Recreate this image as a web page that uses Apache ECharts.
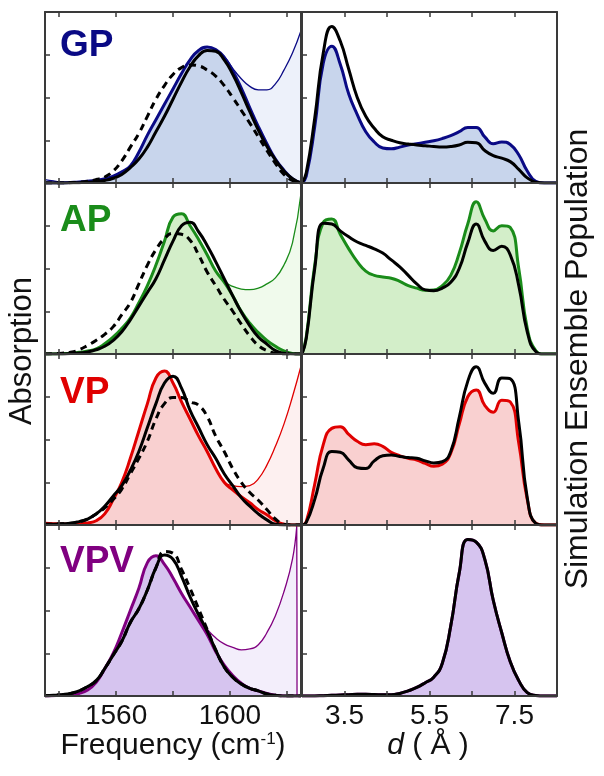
<!DOCTYPE html>
<html><head><meta charset="utf-8">
<script src="https://cdn.jsdelivr.net/npm/echarts@6/dist/echarts.min.js"></script>
<style>html,body{margin:0;padding:0;background:#fff;} #c{width:604px;height:776px;}</style>
</head><body><div id="c"></div>
<script>
// ---------- data ----------
const freq = [1535,1538,1541,1544,1547,1550,1553,1556,1559,1562,1565,1568,1571,1574,1577,1580,1583,1586,1589,1592,1595,1598,1601,1604,1607,1610,1613,1616,1619,1622,1625];
const freqTicks = [1540,1560,1580,1600,1620];
const freqLabels = [1560,1600];

const gpThick = [0,0,0,0.003,0.006,0.01,0.016,0.025,0.04,0.065,0.10,0.18,0.28,0.37,0.46,0.55,0.64,0.72,0.775,0.795,0.78,0.735,0.655,0.555,0.44,0.33,0.23,0.14,0.075,0.025,0];
const gpThin  = [0.02,0.012,0.006,0.004,0.006,0.01,0.016,0.025,0.04,0.065,0.10,0.18,0.28,0.37,0.46,0.55,0.64,0.72,0.775,0.795,0.78,0.74,0.67,0.61,0.565,0.545,0.545,0.58,0.66,0.76,0.89];
const gpBlack = [0,0,0,0.001,0.002,0.004,0.008,0.015,0.028,0.05,0.09,0.14,0.21,0.30,0.39,0.49,0.59,0.68,0.745,0.775,0.77,0.72,0.635,0.53,0.417,0.31,0.215,0.135,0.07,0.025,0];
const gpDash  = [0,0,0,0.002,0.005,0.01,0.02,0.035,0.07,0.13,0.21,0.29,0.39,0.49,0.57,0.635,0.675,0.69,0.685,0.66,0.625,0.57,0.5,0.425,0.35,0.27,0.19,0.115,0.05,0.015,0];

const apThick = [0,0,0.002,0.005,0.01,0.018,0.03,0.06,0.10,0.15,0.21,0.30,0.40,0.52,0.66,0.80,0.82,0.75,0.67,0.58,0.485,0.42,0.34,0.25,0.18,0.125,0.08,0.045,0.018,0.003,0];
const apThin  = [0,0,0.002,0.005,0.01,0.018,0.03,0.06,0.10,0.15,0.21,0.30,0.40,0.52,0.66,0.80,0.82,0.75,0.67,0.58,0.485,0.425,0.395,0.38,0.376,0.385,0.41,0.445,0.52,0.65,0.94];
const apBlack = [0,0,0,0.003,0.006,0.012,0.025,0.045,0.08,0.13,0.20,0.28,0.36,0.44,0.55,0.66,0.75,0.77,0.715,0.635,0.54,0.44,0.34,0.245,0.165,0.10,0.058,0.02,0.004,0,0];
const apDash  = [0,0.002,0.005,0.01,0.025,0.05,0.08,0.115,0.16,0.23,0.30,0.41,0.52,0.61,0.675,0.705,0.70,0.665,0.58,0.48,0.40,0.32,0.25,0.175,0.105,0.05,0.02,0.005,0,0,0];

const vpThick = [0.01,0.008,0.006,0.005,0.006,0.012,0.025,0.065,0.15,0.25,0.39,0.55,0.71,0.86,0.90,0.83,0.72,0.62,0.52,0.43,0.33,0.25,0.205,0.165,0.13,0.09,0.06,0.025,0.005,0,0];
const vpThin  = [0.01,0.008,0.006,0.005,0.006,0.012,0.025,0.065,0.15,0.25,0.39,0.55,0.71,0.86,0.90,0.83,0.72,0.62,0.52,0.43,0.33,0.25,0.23,0.225,0.23,0.27,0.35,0.46,0.59,0.75,0.93];
const vpBlack = [0.005,0.005,0.007,0.01,0.02,0.035,0.065,0.11,0.17,0.23,0.32,0.43,0.57,0.71,0.83,0.87,0.80,0.67,0.57,0.47,0.39,0.30,0.23,0.16,0.11,0.065,0.03,0.005,0,0,0];
const vpDash  = [0.005,0.005,0.007,0.01,0.02,0.035,0.065,0.10,0.15,0.21,0.30,0.39,0.49,0.62,0.71,0.745,0.745,0.72,0.70,0.635,0.52,0.43,0.33,0.25,0.19,0.145,0.09,0.035,0.005,0,0];

const vpvThick = [0,0.002,0.005,0.008,0.015,0.035,0.08,0.16,0.25,0.37,0.50,0.63,0.78,0.82,0.77,0.69,0.60,0.52,0.44,0.36,0.26,0.18,0.12,0.075,0.045,0.03,0.015,0.005,0,0,0];
const vpvThinFreq = [1535,1538,1541,1544,1547,1550,1553,1556,1559,1562,1565,1568,1571,1574,1577,1580,1583,1586,1589,1592,1595,1598,1601,1604,1607,1610,1613,1616,1619,1622,1623.5,1623.6];
const vpvThin  = [0,0.002,0.005,0.008,0.015,0.035,0.08,0.16,0.25,0.37,0.50,0.63,0.78,0.82,0.77,0.69,0.60,0.52,0.45,0.39,0.34,0.305,0.285,0.27,0.275,0.30,0.37,0.47,0.61,0.80,0.99,0];
const vpvBlack = [0.002,0.004,0.008,0.015,0.03,0.055,0.09,0.16,0.24,0.32,0.43,0.51,0.62,0.75,0.825,0.80,0.70,0.58,0.475,0.38,0.27,0.17,0.11,0.07,0.045,0.03,0.012,0.004,0,0,0];
const vpvDash  = [0.002,0.004,0.008,0.015,0.03,0.055,0.09,0.16,0.24,0.32,0.43,0.51,0.62,0.75,0.845,0.835,0.74,0.63,0.51,0.39,0.27,0.17,0.11,0.07,0.045,0.03,0.012,0.004,0,0,0];

const dist = [2.5,2.6,2.8,3.0,3.2,3.4,3.6,3.8,4.0,4.2,4.4,4.6,4.8,5.0,5.2,5.4,5.6,5.8,6.0,6.2,6.4,6.6,6.8,7.0,7.2,7.4,7.6,7.8,8.0,8.2,8.4,8.5];
const distTicks = [3.5,4.5,5.5,6.5,7.5];
const distLabels = [3.5,5.5,7.5];

const gpPop    = [0,0.04,0.33,0.70,0.80,0.695,0.52,0.40,0.30,0.24,0.205,0.20,0.21,0.222,0.23,0.238,0.247,0.26,0.277,0.30,0.325,0.325,0.27,0.23,0.24,0.225,0.165,0.07,0.01,0,0,0];
const gpPopSim = [0,0.06,0.38,0.76,0.915,0.83,0.665,0.50,0.39,0.32,0.27,0.25,0.235,0.228,0.222,0.218,0.213,0.21,0.213,0.222,0.238,0.235,0.19,0.16,0.145,0.125,0.08,0.03,0.005,0,0,0];
const apPop    = [0,0.10,0.52,0.77,0.79,0.70,0.615,0.54,0.485,0.46,0.45,0.443,0.425,0.40,0.385,0.373,0.375,0.40,0.46,0.59,0.76,0.89,0.79,0.72,0.75,0.74,0.50,0.15,0.02,0,0,0];
const apPopSim = [0,0.09,0.50,0.765,0.76,0.72,0.685,0.655,0.635,0.615,0.59,0.55,0.51,0.46,0.41,0.375,0.37,0.385,0.42,0.50,0.65,0.76,0.66,0.605,0.63,0.58,0.40,0.13,0.015,0,0,0];
const vpPop    = [0,0.02,0.24,0.47,0.565,0.575,0.53,0.49,0.47,0.475,0.46,0.425,0.405,0.39,0.38,0.36,0.343,0.355,0.42,0.59,0.75,0.79,0.70,0.66,0.73,0.72,0.48,0.15,0.01,0,0,0];
const vpPopSim = [0,0.015,0.15,0.333,0.43,0.425,0.38,0.335,0.33,0.375,0.405,0.41,0.40,0.395,0.39,0.375,0.363,0.37,0.43,0.63,0.84,0.925,0.83,0.77,0.86,0.855,0.60,0.16,0.01,0,0,0];
const vpvPop    = [0,0,0,0.002,0.004,0.006,0.008,0.01,0.01,0.009,0.007,0.007,0.015,0.03,0.05,0.078,0.11,0.19,0.41,0.72,0.915,0.90,0.80,0.56,0.37,0.20,0.09,0.02,0.003,0,0,0];
const vpvPopSim = [0,0,0,0.002,0.004,0.006,0.008,0.01,0.01,0.009,0.007,0.007,0.015,0.03,0.05,0.078,0.11,0.19,0.41,0.72,0.915,0.90,0.80,0.56,0.37,0.20,0.09,0.02,0.003,0,0,0];

const names = ['GP','AP','VP','VPV'];

// ---------- styling ----------
const FONT = 'Liberation Sans, Arial, sans-serif';
const panels = [
  {name:'GP', color:'#0a0a85', fill:'#c8d5ec', thinFill:'#edf1fa', thick:gpThick, thinX:freq, thin:gpThin, black:gpBlack, dash:gpDash, pop:gpPop, sim:gpPopSim},
  {name:'AP', color:'#1a8c1a', fill:'#d3eec9', thinFill:'#f0faec', thick:apThick, thinX:freq, thin:apThin, black:apBlack, dash:apDash, pop:apPop, sim:apPopSim},
  {name:'VP', color:'#e00000', fill:'#f9d0d0', thinFill:'#fdf0f0', thick:vpThick, thinX:freq, thin:vpThin, black:vpBlack, dash:vpDash, pop:vpPop, sim:vpPopSim},
  {name:'VPV', color:'#800080', fill:'#d6c4ef', thinFill:'#f3eefb', thick:vpvThick, thinX:vpvThinFreq, thin:vpvThin, black:vpvBlack, dash:vpvDash, pop:vpvPop, sim:vpvPopSim}
];
const rowTops = [12, 183, 354, 525];
const rowH = 171;
const labelY = [46, 221, 393, 562];

const pairs = (xs, ys) => xs.map((x, i) => [x, ys[i]]);

const grids = [], xAxes = [], yAxes = [], series = [], graphics = [];
const axisCol = '#3a3a3a';

panels.forEach((p, r) => {
  [0, 1].forEach(side => {
    const g = grids.length;
    const isLeft = side === 0;
    grids.push({left: isLeft ? 45 : 302, top: rowTops[r], width: isLeft ? 256 : 255, height: rowH, containLabel: false});
    const base = {
      type: 'value', gridIndex: g, z: 10,
      min: isLeft ? 1535 : 2.5, max: isLeft ? 1625 : 8.5,
      splitLine: {show: false},
      axisLine: {show: true, onZero: false, lineStyle: {color: axisCol, width: 2}},
    };
    xAxes.push(Object.assign({}, base, {
      position: 'bottom',
      axisTick: {show: true, inside: true, length: 5, customValues: isLeft ? freqTicks : distTicks, lineStyle: {color: axisCol, width: 1.5}},
      axisLabel: {show: r === 3, customValues: isLeft ? freqLabels : distLabels, fontSize: 28, color: '#111', fontFamily: FONT, margin: 6,
        formatter: v => isLeft ? String(Math.round(v)) : v.toFixed(1)}
    }));
    xAxes.push(Object.assign({}, base, {
      position: 'top',
      axisTick: {show: true, inside: true, length: 5, customValues: isLeft ? freqTicks : distTicks, lineStyle: {color: axisCol, width: 1.5}},
      axisLabel: {show: false}
    }));
    yAxes.push({type: 'value', gridIndex: g, z: 10, min: 0, max: 1, position: 'left',
      splitLine: {show: false},
      axisLine: {show: true, onZero: false, lineStyle: {color: axisCol, width: 2}},
      axisTick: {show: true, inside: true, length: 5, customValues: [0.25, 0.5, 0.75], lineStyle: {color: axisCol, width: 1.5}},
      axisLabel: {show: false}});
    yAxes.push({type: 'value', gridIndex: g, z: 10, min: 0, max: 1, position: 'right',
      splitLine: {show: false},
      axisLine: {show: true, onZero: false, lineStyle: {color: axisCol, width: 2}},
      axisTick: {show: false}, axisLabel: {show: false}});

    const xi = 2 * g, yi = 2 * g;
    const common = {type: 'line', xAxisIndex: xi, yAxisIndex: yi, symbol: 'none', smooth: 0.5, animation: false};
    if (isLeft) {
      series.push(Object.assign({}, common, {name: p.name + ' total', data: pairs(p.thinX, p.thin), z: 2,
        lineStyle: {color: p.color, width: 1.3}, areaStyle: {color: p.thinFill, opacity: 1}}));
      series.push(Object.assign({}, common, {name: p.name + ' amide', data: pairs(freq, p.thick), z: 3,
        lineStyle: {color: p.color, width: 3}, areaStyle: {color: p.fill, opacity: 1}}));
      series.push(Object.assign({}, common, {name: p.name + ' sim', data: pairs(freq, p.black), z: 4,
        lineStyle: {color: '#000', width: 3}}));
      series.push(Object.assign({}, common, {name: p.name + ' sim2', data: pairs(freq, p.dash), z: 5,
        lineStyle: {color: '#000', width: 3, type: [7, 5]}}));
    } else {
      series.push(Object.assign({}, common, {name: p.name + ' pop', data: pairs(dist, p.pop), z: 3,
        lineStyle: {color: p.color, width: 3}, areaStyle: {color: p.fill, opacity: 1}}));
      series.push(Object.assign({}, common, {name: p.name + ' popsim', data: pairs(dist, p.sim), z: 4,
        lineStyle: {color: '#000', width: 3}}));
    }
  });
  graphics.push({type: 'text', x: 60, y: labelY[r], z: 20,
    style: {text: names[r], fill: p.color, font: 'bold 37px ' + FONT, textVerticalAlign: 'middle', textAlign: 'left'}});
});

graphics.push({type: 'text', x: 173, y: 746, z: 20,
  style: {text: 'Frequency (cm{sup|-1})', fill: '#111', fontSize: 30, fontFamily: FONT, align: 'center', verticalAlign: 'middle',
    rich: {sup: {fontSize: 17, fontFamily: FONT, fill: '#111', verticalAlign: 'top', padding: [0, 0, 14, 0]}}}});
graphics.push({type: 'text', x: 428, y: 746, z: 20,
  style: {text: '{i|d} ( Å )', fill: '#111', fontSize: 30, fontFamily: FONT, align: 'center', verticalAlign: 'middle',
    rich: {i: {fontStyle: 'italic', fontSize: 30, fontFamily: FONT, fill: '#111'}}}});
graphics.push({type: 'text', x: 22, y: 351, rotation: Math.PI / 2, z: 20,
  style: {text: 'Absorption', fill: '#111', fontSize: 31, fontFamily: FONT, align: 'center', verticalAlign: 'middle'}});
graphics.push({type: 'text', x: 578, y: 359, rotation: Math.PI / 2, z: 20,
  style: {text: 'Simulation Ensemble Population', fill: '#111', fontSize: 32, fontFamily: FONT, align: 'center', verticalAlign: 'middle'}});

const chart = echarts.init(document.getElementById('c'), null, {renderer: 'canvas'});
chart.setOption({
  animation: false,
  backgroundColor: '#fff',
  grid: grids, xAxis: xAxes, yAxis: yAxes, series: series, graphic: graphics
});
</script></body></html>
